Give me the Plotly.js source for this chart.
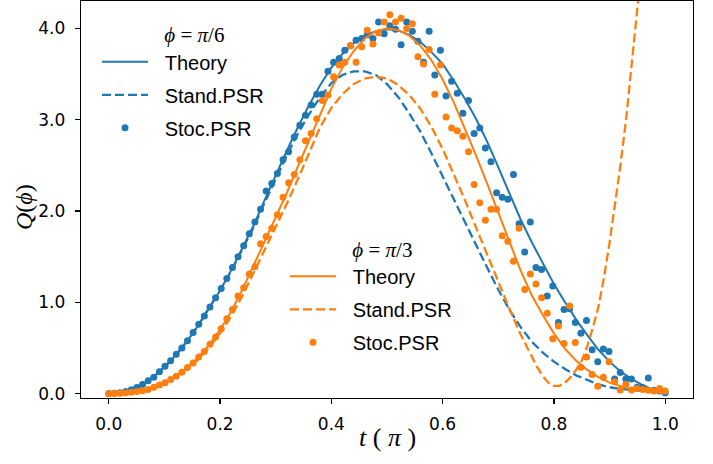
<!DOCTYPE html>
<html>
<head>
<meta charset="utf-8">
<script src="https://cdn.plot.ly/plotly-3.0.1.min.js"></script>
<style>html,body{margin:0;padding:0;background:#fff;}#chart{width:713px;height:464px;}</style>
</head>
<body>
<div id="chart"></div>
<script>
// stochastic sample times (100 points)
const tStoc = [0,0.0101,0.0202,0.0303,0.0404,0.0505,0.0606,0.0707,0.0808,0.0909,
0.1010,0.1111,0.1212,0.1313,0.1414,0.1515,0.1616,0.1717,0.1818,0.1919,
0.2020,0.2121,0.2222,0.2323,0.2424,0.2525,0.2626,0.2727,0.2828,0.2929,
0.3030,0.3131,0.3232,0.3333,0.3434,0.3535,0.3636,0.3737,0.3838,0.3939,
0.4040,0.4141,0.4242,0.4343,0.4444,0.4545,0.4646,0.4747,0.4848,0.4949,
0.5051,0.5152,0.5253,0.5354,0.5455,0.5556,0.5657,0.5758,0.5859,0.5960,
0.6061,0.6162,0.6263,0.6364,0.6465,0.6566,0.6667,0.6768,0.6869,0.6970,
0.7071,0.7172,0.7273,0.7374,0.7475,0.7576,0.7677,0.7778,0.7879,0.7980,
0.8081,0.8182,0.8283,0.8384,0.8485,0.8586,0.8687,0.8788,0.8889,0.8990,
0.9091,0.9192,0.9293,0.9394,0.9495,0.9596,0.9697,0.9798,0.9899,1.0];

const stocPi6 = [0.00,0.003,0.010,0.022,0.041,0.066,0.10,0.14,0.18,0.24,
0.30,0.36,0.43,0.50,0.58,0.67,0.76,0.85,0.95,1.05,
1.15,1.26,1.38,1.50,1.62,1.75,1.88,2.02,2.22,2.30,
2.41,2.56,2.65,2.81,2.94,3.05,3.16,3.28,3.28,3.53,
3.63,3.67,3.76,3.81,3.87,3.89,3.93,3.89,4.07,3.94,
4.03,3.99,3.82,4.07,3.97,3.86,3.63,3.97,3.49,3.76,
3.26,3.42,3.29,3.07,3.21,2.85,2.91,2.69,2.54,2.20,
2.15,2.13,2.40,1.86,1.55,1.88,1.38,1.36,1.07,1.18,
0.78,0.92,0.93,0.78,0.66,0.80,0.48,0.35,0.49,0.46,
0.16,0.23,0.16,0.16,0.07,0.066,0.17,0.036,0.03,0.01];

const stocPi3 = [0.00,0.001,0.005,0.009,0.015,0.022,0.031,0.045,0.07,0.095,
0.12,0.155,0.19,0.235,0.285,0.335,0.40,0.46,0.54,0.62,
0.71,0.82,0.92,1.07,1.16,1.31,1.39,1.64,1.72,1.81,
1.96,2.15,2.31,2.40,2.56,2.77,2.85,3.01,3.21,3.27,
3.47,3.60,3.63,3.81,3.63,3.80,3.98,3.83,3.95,4.07,
4.15,4.07,4.11,4.00,4.05,3.69,3.61,3.77,3.28,3.60,
3.03,2.91,2.88,2.82,2.65,2.29,2.09,1.90,2.02,2.02,
1.73,1.67,1.45,1.81,1.14,1.31,1.20,1.05,0.88,0.60,
0.74,0.55,0.96,0.56,0.29,0.40,0.21,0.08,0.18,0.35,
0.13,0.04,0.10,0.04,0.055,0.044,0.036,0.03,0.055,0.03];

// theory / standard curves sample times
const tCurve = [0,0.02,0.04,0.06,0.08,0.10,0.12,0.14,0.16,0.18,
0.20,0.22,0.24,0.26,0.28,0.30,0.32,0.34,0.36,0.38,
0.40,0.42,0.44,0.46,0.48,0.50,0.52,0.54,0.56,0.58,
0.60,0.62,0.64,0.66,0.68,0.70,0.72,0.74,0.76,0.78,
0.80,0.82,0.84,0.86,0.88,0.90,0.92,0.94,0.96,0.98,1.00];

const theoryPi6 = [0,0.01,0.04,0.10,0.18,0.29,0.42,0.57,0.74,0.93,
1.13,1.35,1.59,1.84,2.12,2.40,2.66,2.92,3.16,3.38,
3.57,3.72,3.84,3.92,3.97,3.99,3.98,3.93,3.85,3.74,
3.61,3.43,3.23,3.01,2.76,2.48,2.20,1.91,1.66,1.43,
1.20,1.00,0.81,0.64,0.48,0.35,0.24,0.16,0.09,0.04,0.01];

const theoryPi3 = [0,0.005,0.015,0.03,0.065,0.12,0.19,0.28,0.39,0.53,
0.70,0.90,1.14,1.40,1.67,1.94,2.20,2.49,2.78,3.06,
3.34,3.57,3.75,3.89,3.97,4.00,3.98,3.92,3.81,3.65,
3.44,3.19,2.91,2.61,2.30,1.98,1.67,1.35,1.08,0.86,
0.66,0.49,0.36,0.26,0.18,0.12,0.08,0.05,0.03,0.015,0.005];

const standPi6 = [0,0.01,0.04,0.10,0.18,0.29,0.42,0.57,0.74,0.93,
1.13,1.34,1.58,1.82,2.09,2.36,2.61,2.85,3.06,3.25,
3.40,3.49,3.53,3.53,3.49,3.39,3.25,3.07,2.87,2.63,
2.38,2.13,1.87,1.62,1.38,1.14,0.92,0.73,0.57,0.45,
0.35,0.27,0.20,0.15,0.10,0.07,0.05,0.04,0.03,0.02,0.01];

const tStandPi3 = [0,0.02,0.04,0.06,0.08,0.10,0.12,0.14,0.16,0.18,
0.20,0.22,0.24,0.26,0.28,0.30,0.32,0.34,0.36,0.38,
0.40,0.42,0.44,0.46,0.48,0.50,0.52,0.54,0.56,0.58,
0.60,0.62,0.64,0.66,0.68,0.70,0.72,0.74,0.76,0.77,
0.78,0.79,0.80,0.81,0.82,0.83,0.84,0.85,0.86,0.87,
0.88,0.89,0.90,0.91,0.92,0.93,0.94,0.95,0.96];

const standPi3 = [0,0.005,0.015,0.03,0.065,0.115,0.18,0.27,0.37,0.50,
0.66,0.85,1.07,1.32,1.57,1.83,2.08,2.35,2.64,2.92,
3.13,3.28,3.39,3.45,3.47,3.45,3.38,3.27,3.12,2.92,
2.68,2.41,2.12,1.82,1.52,1.22,0.93,0.65,0.40,0.29,
0.19,0.12,0.085,0.085,0.12,0.18,0.26,0.36,0.52,0.72,
0.95,1.27,1.65,2.07,2.52,3.02,3.57,4.17,4.82];

const xTicks = [0.0,0.2,0.4,0.6,0.8,1.0];
const yTicks = [0.0,1.0,2.0,3.0,4.0];
const legendNames = ['Theory','Stand.PSR','Stoc.PSR'];
const legendTitles = ['<i>ϕ</i> = <i>π</i>/6','<i>ϕ</i> = <i>π</i>/3'];
const xTitle = '<i>t</i> ( <i>π</i> )';
const yTitle = '<i>Q</i>(<i>ϕ</i>)';

const BLUE = '#1f77b4', ORANGE = '#ff7f0e';
const dashStyle = '9px,4px';
const GAP = '\u2002\u200A'; // extra gap between legend symbol and text
const TGAP = '\u2002\u2002\u200A';

const traces = [
  {x: tCurve, y: theoryPi6, mode:'lines', name: GAP + legendNames[0], line:{color:BLUE,width:2}, legend:'legend', legendgroup:'a1'},
  {x: tCurve, y: standPi6, mode:'lines', name: GAP + legendNames[1], line:{color:BLUE,width:2.3,dash:dashStyle}, legend:'legend', legendgroup:'a2'},
  {x: tStoc, y: stocPi6, mode:'markers', name: GAP + legendNames[2], marker:{color:BLUE,size:7}, legend:'legend', legendgroup:'a3'},
  {x: tCurve, y: theoryPi3, mode:'lines', name: GAP + legendNames[0], line:{color:ORANGE,width:2}, legend:'legend2', legendgroup:'b1'},
  {x: tStandPi3, y: standPi3, mode:'lines', name: GAP + legendNames[1], line:{color:ORANGE,width:2.3,dash:dashStyle}, legend:'legend2', legendgroup:'b2'},
  {x: tStoc, y: stocPi3, mode:'markers', name: GAP + legendNames[2], marker:{color:ORANGE,size:7}, legend:'legend2', legendgroup:'b3'}
];

const L = 81, R = 693, T = 1, B = 398;
const W = R - L, H = B - T;
function px(xp){ return (xp - L) / W; }
function py(yp){ return (B - yp) / H; }

const legendBase = {
  bgcolor:'rgba(0,0,0,0)', borderwidth:0,
  font:{family:'Liberation Sans, Arial, sans-serif', size:20, color:'#000'},
  xanchor:'left', yanchor:'top', tracegroupgap:4, itemwidth:46,
};

const layout = {
  width:713, height:464,
  margin:{l:L, r:713-R, t:T, b:464-B},
  paper_bgcolor:'#fff', plot_bgcolor:'#fff',
  showlegend:true,
  xaxis:{
    range:[-0.05,1.05], tickvals:xTicks, ticktext:xTicks.map(v=>v.toFixed(1)),
    showgrid:false, zeroline:false, showline:true, mirror:true, linecolor:'#000', linewidth:1.3,
    ticks:'outside', ticklen:5, tickwidth:1.2, tickcolor:'#000', ticklabelstandoff:5,
    tickfont:{family:'DejaVu Sans', size:17, color:'#000'}
  },
  yaxis:{
    range:[-0.048,4.3], tickvals:yTicks, ticktext:yTicks.map(v=>v.toFixed(1)),
    showgrid:false, zeroline:false, showline:true, mirror:true, linecolor:'#000', linewidth:1.3,
    ticks:'outside', ticklen:5, tickwidth:1.2, tickcolor:'#000', ticklabelstandoff:6,
    tickfont:{family:'DejaVu Sans', size:17, color:'#000'}
  },
  annotations:[
    {text:xTitle, xref:'paper', yref:'paper', x:0.5, y:py(437), xanchor:'center', yanchor:'middle', showarrow:false,
     font:{family:'Liberation Serif, serif', size:26, color:'#000'}},
    {text:yTitle, xref:'paper', yref:'paper', x:px(24), y:py(207), xanchor:'center', yanchor:'middle', showarrow:false, textangle:-90,
     font:{family:'Liberation Serif, serif', size:24, color:'#000'}}
  ],
  legend: Object.assign({}, legendBase, {
    x: px(97), y: py(15),
    title:{text: TGAP + legendTitles[0], side:'top center', font:{family:'Liberation Serif, serif', size:21, color:'#000'}}
  }),
  legend2: Object.assign({}, legendBase, {
    x: px(285), y: py(229.5),
    title:{text: TGAP + legendTitles[1], side:'top center', font:{family:'Liberation Serif, serif', size:21, color:'#000'}}
  })
};

Plotly.newPlot('chart', traces, layout, {displayModeBar:false, staticPlot:true});
</script>
</body>
</html>
